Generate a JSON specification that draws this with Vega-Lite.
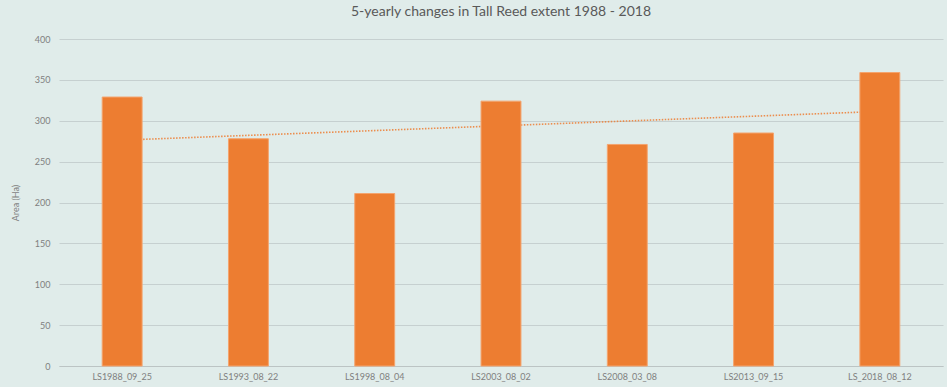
{
  "$schema": "https://vega.github.io/schema/vega-lite/v6.json",
  "width": 884,
  "height": 327,
  "autosize": {"type": "none"},
  "padding": {"left": 59, "top": 39, "right": 4, "bottom": 21},
  "background": "#e0ecea",
  "title": {
    "text": "5-yearly changes in Tall Reed extent 1988 - 2018",
    "font": "Lato",
    "fontSize": 14,
    "fontWeight": "normal",
    "color": "#595959",
    "anchor": "middle",
    "offset": 16
  },
  "datasets": {
    "reeds": [
      {"idx": 1, "scene": "LS1988_09_25", "area": 329},
      {"idx": 2, "scene": "LS1993_08_22", "area": 278},
      {"idx": 3, "scene": "LS1998_08_04", "area": 211},
      {"idx": 4, "scene": "LS2003_08_02", "area": 324},
      {"idx": 5, "scene": "LS2008_03_08", "area": 271},
      {"idx": 6, "scene": "LS2013_09_15", "area": 285},
      {"idx": 7, "scene": "LS_2018_08_12", "area": 359}
    ]
  },
  "data": {"name": "reeds"},
  "config": {
    "view": {"stroke": null},
    "font": "Lato",
    "axis": {
      "labelFont": "Lato",
      "titleFont": "Lato",
      "labelColor": "#7f7f7f",
      "titleColor": "#7f7f7f",
      "labelFontSize": 9,
      "titleFontSize": 9,
      "titleFontWeight": "normal"
    }
  },
  "encoding": {
    "x": {
      "field": "scene",
      "type": "nominal",
      "sort": ["LS1988_09_25", "LS1993_08_22", "LS1998_08_04", "LS2003_08_02", "LS2008_03_08", "LS2013_09_15", "LS_2018_08_12"],
      "scale": {"paddingInner": 0.684, "paddingOuter": 0.342},
      "axis": {
        "title": null,
        "labelAngle": 0,
        "ticks": false,
        "labelPadding": 6,
        "domainColor": "#bcc4c4",
        "domainWidth": 1
      }
    },
    "y": {
      "field": "area",
      "type": "quantitative",
      "scale": {"domain": [0, 400]},
      "axis": {
        "title": "Area (Ha)",
        "values": [0, 50, 100, 150, 200, 250, 300, 350, 400],
        "domain": false,
        "ticks": false,
        "labelPadding": 9,
        "titlePadding": 14,
        "gridColor": "#c6d0d0",
        "gridWidth": 1.2
      }
    }
  },
  "layer": [
    {
      "transform": [
        {"regression": "area", "on": "idx"},
        {"lookup": "idx", "from": {"data": {"name": "reeds"}, "key": "idx", "fields": ["scene"]}}
      ],
      "mark": {"type": "line", "color": "#ed7d31", "strokeWidth": 1.6, "strokeDash": [1.5, 1.5], "opacity": 0.85}
    },
    {
      "mark": {"type": "bar", "color": "#ed7d31", "stroke": "#f4a46e", "strokeWidth": 1}
    }
  ]
}
